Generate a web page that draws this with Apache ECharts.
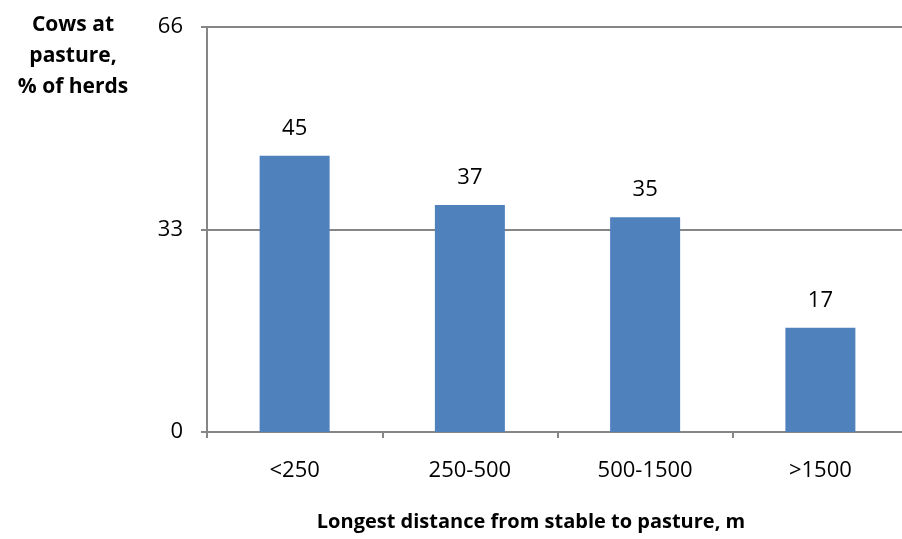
<!DOCTYPE html>
<html style="height: 100%">
<head>
    <meta charset="utf-8">
    <title>Cows at pasture</title>
    <script src="https://cdn.jsdelivr.net/npm/echarts@6/dist/echarts.min.js"></script>
</head>
<body style="height: 100%; margin: 0; overflow: hidden">
    <!-- plot area runs a little past the right edge, as in the original -->
    <div id="container" style="width: 912px; height: 539px"></div>
    <script>
        // data
        const categories = ['<250', '250-500', '500-1500', '>1500'];
        const values = [45, 37, 35, 17];
        const yTicks = [0, 33, 66];

        const font = '"Open Sans", "DejaVu Sans", sans-serif';
        const gray = '#868686';

        const chart = echarts.init(document.getElementById('container'));
        chart.setOption({
            animation: false,
            title: [
                {
                    text: 'Cows at\npasture,\n% of herds',
                    left: 68,
                    top: 5,
                    textAlign: 'center',
                    textStyle: { fontFamily: font, fontSize: 21, fontWeight: 'bold', color: '#000', lineHeight: 31, align: 'center' }
                },
                {
                    text: 'Longest distance from stable to pasture, m',
                    left: 526,
                    top: 507,
                    textAlign: 'center',
                    textStyle: { fontFamily: font, fontSize: 20, fontWeight: 'bold', color: '#000' }
                }
            ],
            grid: { left: 207, right: 4, top: 27, bottom: 107, containLabel: false },
            xAxis: {
                type: 'category',
                data: categories,
                axisLine: { lineStyle: { color: gray, width: 2 } },
                axisTick: { show: true, length: 6, lineStyle: { color: gray, width: 2 } },
                axisLabel: { fontFamily: font, fontSize: 22, color: '#000', margin: 28 }
            },
            yAxis: {
                type: 'value',
                min: 0,
                max: 66,
                interval: 33,
                axisLine: { show: true, lineStyle: { color: gray, width: 2 } },
                axisTick: { show: true, length: 6, lineStyle: { color: gray, width: 2 } },
                axisLabel: {
                    fontFamily: font, fontSize: 22, color: '#000', margin: 24,
                    formatter: v => yTicks.includes(v) ? String(v) : ''
                },
                splitLine: { show: true, lineStyle: { color: gray, width: 2 } }
            },
            series: [{
                type: 'bar',
                data: values,
                barWidth: 70,
                itemStyle: { color: '#4F81BD' },
                label: {
                    show: true,
                    position: 'top',
                    distance: 16,
                    fontFamily: font,
                    fontSize: 22,
                    color: '#000'
                }
            }]
        });
    </script>
</body>
</html>
